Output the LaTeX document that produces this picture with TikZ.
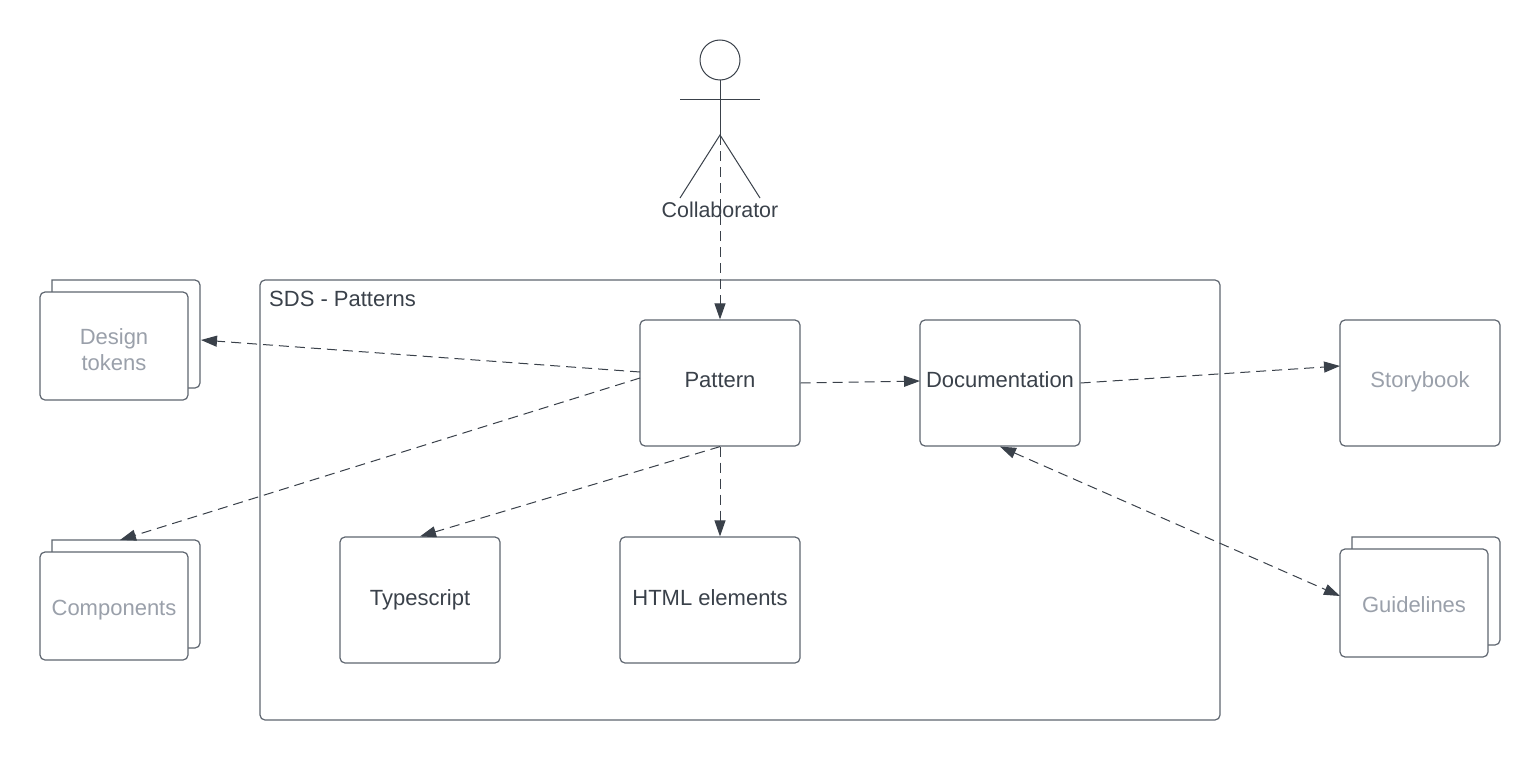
\documentclass[tikz,border=0pt]{standalone}
\usepackage{fontspec}
\setmainfont{Liberation Sans}
\usetikzlibrary{arrows.meta}
\definecolor{ink}{HTML}{3A414A}
\definecolor{edge}{HTML}{5F6670}
\definecolor{mute}{HTML}{9AA0AA}
\tikzset{
  x=1pt,y=-1pt,
  box/.style={draw=edge,fill=white,line width=1.2pt,rounded corners=5pt,inner sep=0pt,
    text=ink,align=center,font=\fontsize{22}{26}\selectfont,text height=14pt,text depth=6pt},
  wide/.style={box,minimum width=160pt,minimum height=126pt},
  lowtext/.style={text height=15pt,text depth=5pt},
  front/.style={box,text=mute,minimum width=148pt,minimum height=108pt,text height=18pt,text depth=0pt},
  ghost/.style={wide,text=mute},
  backsheet/.style={draw=edge,line width=1.2pt},
  stick/.style={draw=ink,line width=1pt},
  link/.style={draw=ink,line width=1pt,dash pattern=on 10pt off 6pt,-{Triangle[length=16pt,width=11pt,fill=ink]}},
  biglink/.style={link,{Triangle[length=16pt,width=11pt,fill=ink]}-{Triangle[length=16pt,width=11pt,fill=ink]}},
  lbl/.style={inner sep=0pt,text=ink,font=\fontsize{22}{26}\selectfont},
}
\begin{document}
\begin{tikzpicture}
\useasboundingbox (0,0) rectangle (1540,760);
\fill[white] (0,0) rectangle (1540,760);
% container
\node[box,minimum width=960pt,minimum height=440pt] (sds) at (740,500) {};
\node[lbl,anchor=base west] (sdst) at (269,306) {SDS - Patterns};
% actor
\node[circle,stick,fill=white,minimum size=40pt,inner sep=0pt] (head) at (720,60) {};
\coordinate (hip) at (720,135);
\coordinate (larm) at (680,99);
\coordinate (rarm) at (760,99);
\coordinate (lfoot) at (680,198);
\coordinate (rfoot) at (760,198);
\draw[stick] (head.south) -- (hip);
\draw[stick] (larm) -- (rarm);
\draw[stick] (lfoot) -- (hip) -- (rfoot);
\node[lbl,font=\fontsize{21.4}{26}\selectfont] (coll) at (720,210) {Collaborator};
% boxes
\node[wide] (pat) at (720,383) {Pattern};
\node[wide] (doc) at (1000,383) {Documentation};
\node[wide,lowtext] (ts) at (420,600) {Typescript};
\node[wide,lowtext,minimum width=180pt] (html) at (710,600) {HTML elements};
\node[ghost] (story) at (1420,383) {Storybook};
% stacked
\draw[backsheet] (52,292) -- (52,280) [rounded corners=5pt] -- (200,280) -- (200,388) -- (188,388);
\node[front,text height=,text depth=] (tok) at (114,346) {\rule{0pt}{24pt}Design\\tokens};
\draw[backsheet] (52,552) -- (52,540) [rounded corners=5pt] -- (200,540) -- (200,648) -- (188,648);
\node[front] (comp) at (114,606) {Components};
\draw[backsheet] (1352,549) -- (1352,537) [rounded corners=5pt] -- (1500,537) -- (1500,645) -- (1488,645);
\node[front] (guide) at (1414,603) {Guidelines};
% free ends on the shapes
\coordinate (tokE) at (201,340);
\coordinate (compN) at (120,540);
\coordinate (patA) at (640,372);
\coordinate (patB) at (640,378);
\coordinate (storyW) at (1340,366);
\coordinate (guideW) at (1340,596);
\coordinate (docW) at (920,381);
% connectors
\draw[link] (hip) -- (pat.north);
\draw[link] (patA) -- (tokE);
\draw[link] (patB) -- (compN);
\draw[link] (pat.east) -- (docW);
\draw[link] (pat.south) -- (html.north -| pat.south);
\draw[link] (pat.south) -- (ts.north);
\draw[link] (doc.east) -- (storyW);
\draw[biglink] (doc.south) -- (guideW);
\end{tikzpicture}
\end{document}
